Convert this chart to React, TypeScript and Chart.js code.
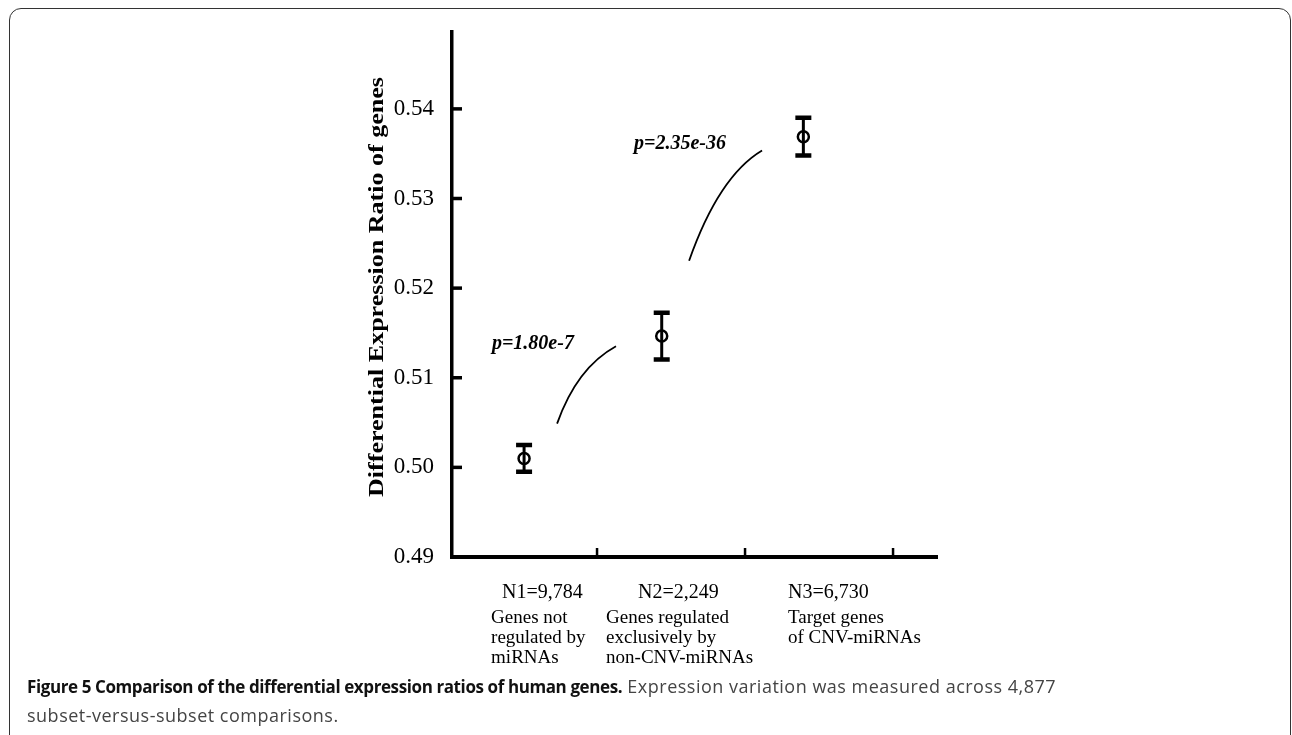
import React, { useEffect, useRef } from 'react';
import { Chart, registerables } from 'chart.js';

Chart.register(...registerables);

// ---- data ----
const categories = ['N1=9,784', 'N2=2,249', 'N3=6,730'];
const groupLabels = [
  ['Genes not', 'regulated by', 'miRNAs'],
  ['Genes regulated', 'exclusively by', 'non-CNV-miRNAs'],
  ['Target genes', 'of CNV-miRNAs'],
];
const categoryX = [0.507, 1.437, 2.394];
const meanRatio = [0.501, 0.51465, 0.5369];
const errorHalf = [0.0015, 0.0026, 0.0021];
const yTicks = [0.49, 0.5, 0.51, 0.52, 0.53, 0.54];
const xTicks = [1, 2, 3];
const pValueLabels = ['p=1.80e-7', 'p=2.35e-36'];
const yTitle = 'Differential Expression Ratio of genes';

// ---- annotation layout (data units) ----
const pLabelAnchors = [
  [0.29, 0.51319],
  [1.25, 0.53549],
];
const curveAnchors = [
  [[0.73, 0.50488], [0.863, 0.51112], [1.128, 0.51352]],
  [[1.622, 0.52305], [1.823, 0.53248], [2.115, 0.53535]],
];
const nLabelX = [0.358, 1.277, 2.29];
const groupLabelX = [0.284, 1.061, 2.29];

const overlayPlugin = {
  id: 'overlay',
  afterDraw(chart: any) {
    const { ctx, scales } = chart;
    const xs = scales.x;
    const ys = scales.y;
    const area = chart.chartArea;
    ctx.save();
    ctx.strokeStyle = '#000';
    ctx.fillStyle = '#000';

    // inward y ticks
    ctx.lineWidth = 3.5;
    yTicks.forEach((v) => {
      const y = ys.getPixelForValue(v);
      ctx.beginPath();
      ctx.moveTo(area.left, y);
      ctx.lineTo(area.left + 10, y);
      ctx.stroke();
    });
    // inward x ticks
    ctx.lineWidth = 2.5;
    xTicks.forEach((v) => {
      const x = xs.getPixelForValue(v);
      ctx.beginPath();
      ctx.moveTo(x, area.bottom);
      ctx.lineTo(x, area.bottom - 9);
      ctx.stroke();
    });

    // error bars
    categoryX.forEach((cx, i) => {
      const x = xs.getPixelForValue(cx);
      const yt = ys.getPixelForValue(meanRatio[i] + errorHalf[i]);
      const yb = ys.getPixelForValue(meanRatio[i] - errorHalf[i]);
      ctx.lineWidth = 3;
      ctx.beginPath();
      ctx.moveTo(x, yt);
      ctx.lineTo(x, yb);
      ctx.stroke();
      ctx.lineWidth = 4.5;
      ctx.beginPath();
      ctx.moveTo(x - 8, yt);
      ctx.lineTo(x + 8, yt);
      ctx.moveTo(x - 8, yb);
      ctx.lineTo(x + 8, yb);
      ctx.stroke();
    });

    // curves
    ctx.lineWidth = 1.8;
    curveAnchors.forEach((c) => {
      const p = c.map(([vx, vy]) => [xs.getPixelForValue(vx), ys.getPixelForValue(vy)]);
      ctx.beginPath();
      ctx.moveTo(p[0][0], p[0][1]);
      ctx.quadraticCurveTo(p[1][0], p[1][1], p[2][0], p[2][1]);
      ctx.stroke();
    });

    // p-value labels
    ctx.font = 'italic bold 20px "Liberation Serif"';
    ctx.textAlign = 'left';
    ctx.textBaseline = 'alphabetic';
    pValueLabels.forEach((t, i) => {
      ctx.fillText(t, xs.getPixelForValue(pLabelAnchors[i][0]), ys.getPixelForValue(pLabelAnchors[i][1]));
    });

    // category labels
    const base = area.bottom;
    ctx.font = '20px "Liberation Serif"';
    categories.forEach((t, i) => {
      ctx.fillText(t, xs.getPixelForValue(nLabelX[i]), base + 41);
    });
    ctx.font = '19px "Liberation Serif"';
    groupLabels.forEach((lines, i) => {
      lines.forEach((t, j) => {
        ctx.fillText(t, xs.getPixelForValue(groupLabelX[i]), base + 66 + j * 20);
      });
    });

    // y title (stretched along its length)
    ctx.font = 'bold 20px "Liberation Serif"';
    const w = ctx.measureText(yTitle).width;
    const targetLen = 420;
    ctx.translate(378, 287);
    ctx.rotate(-Math.PI / 2);
    ctx.scale(targetLen / w, 1);
    ctx.textAlign = 'center';
    ctx.textBaseline = 'middle';
    ctx.fillText(yTitle, 0, 0);
    ctx.restore();
  },
};

export default function App() {
  const ref = useRef<HTMLCanvasElement | null>(null);
  useEffect(() => {
    if (!ref.current) return;
    const chart = new Chart(ref.current, {
      type: 'scatter',
      data: {
        datasets: [
          {
            data: categoryX.map((x, i) => ({ x, y: meanRatio[i] })),
            pointRadius: 5.5,
            pointBorderWidth: 2.5,
            pointBorderColor: '#000',
            pointBackgroundColor: 'rgba(0,0,0,0)',
            showLine: false,
          },
        ],
      },
      options: {
        animation: false,
        responsive: false,
        layout: { padding: { left: 352, right: 355, top: 28, bottom: 178 } },
        plugins: { legend: { display: false }, tooltip: { enabled: false } },
        scales: {
          x: {
            type: 'linear',
            min: 0.02,
            max: 3.297,
            grid: { display: false, drawTicks: false },
            border: { display: true, width: 4, color: '#000' },
            ticks: { display: false },
            afterFit: (s: any) => {
              s.height = 0;
            },
          },
          y: {
            type: 'linear',
            min: 0.49,
            max: 0.5486,
            grid: { display: false, drawTicks: false },
            border: { display: true, width: 3.5, color: '#000' },
            afterBuildTicks: (s: any) => {
              s.ticks = yTicks.map((v) => ({ value: v }));
            },
            ticks: {
              padding: 18,
              color: '#000',
              font: { family: '"Liberation Serif"', size: 23 },
              callback: (v: any) => Number(v).toFixed(2),
            },
            afterFit: (s: any) => {
              s.width = 100;
            },
          },
        },
      },
      plugins: [overlayPlugin],
    });
    return () => chart.destroy();
  }, []);

  return (
    <div style={{ position: 'fixed', left: 0, top: 0, width: 1292, height: 735, overflow: 'hidden', background: '#fff' }}>
      <div
        style={{
          position: 'absolute',
          left: 9,
          top: 8,
          width: 1282,
          height: 800,
          boxSizing: 'border-box',
          border: '1.5px solid #333',
          borderRadius: 12,
        }}
      />
      <canvas ref={ref} width={1292} height={735} style={{ position: 'absolute', left: 0, top: 0, width: 1292, height: 735 }} />
      <div
        style={{
          position: 'absolute',
          left: 27,
          top: 672,
          fontFamily: '"Open Sans", sans-serif',
          fontSize: 18,
          letterSpacing: '0.5px',
          lineHeight: '28px',
          color: '#444',
          whiteSpace: 'nowrap',
        }}
      >
        <b style={{ color: '#111', fontSize: 17, letterSpacing: '-0.4px' }}>
          Figure 5 Comparison of the differential expression ratios of human genes.
        </b>{' '}
        Expression variation was measured across 4,877
        <br />
        subset-versus-subset comparisons.
      </div>
    </div>
  );
}
